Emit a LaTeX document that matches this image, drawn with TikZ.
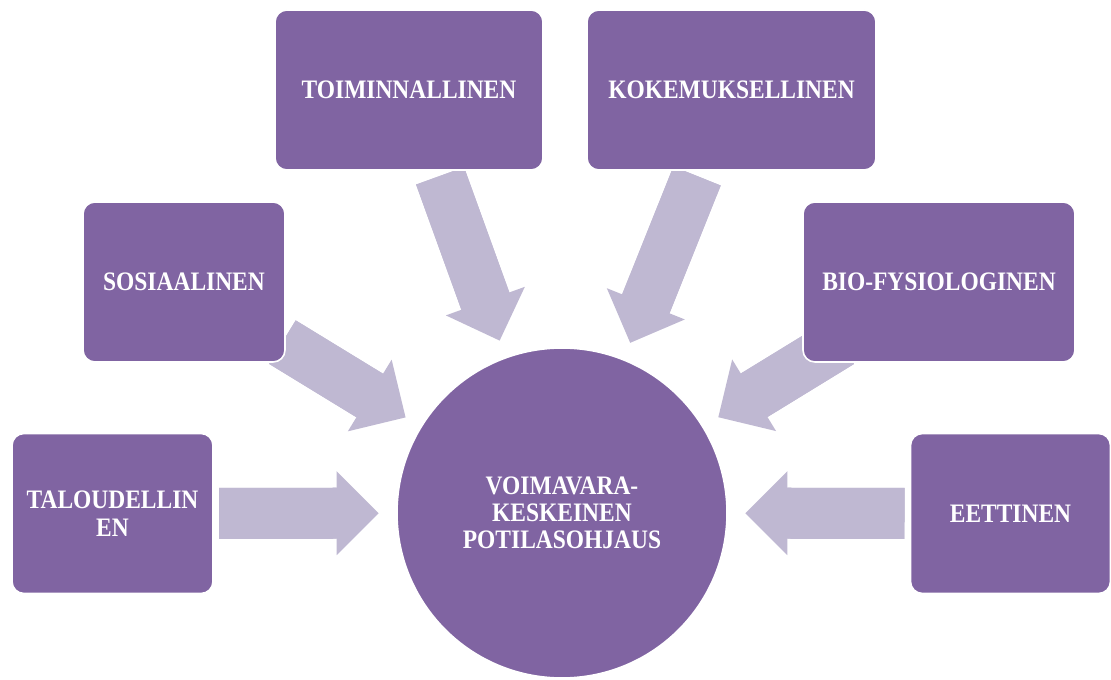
\documentclass[tikz,border=0pt]{standalone}
\usepackage{fontspec}
\newfontfamily\boxfont[FakeStretch=0.88]{Liberation Serif}
\usepackage{tikz}
\usetikzlibrary{arrows.meta,backgrounds}
\definecolor{vkpurple}{RGB}{128,100,162}
\definecolor{vklilac}{RGB}{191,184,210}
\tikzstyle{facet} = [rectangle, rounded corners=9pt, fill=vkpurple, draw=white, line width=1.2pt, text=white, align=center, minimum height=120pt, inner sep=0pt, font=\boxfont\bfseries\fontsize{20}{21}\selectfont]
\tikzstyle{core} = [circle, fill=vkpurple, draw=white, line width=1.2pt, text=white, align=center, minimum size=247.5pt, inner sep=0pt, font=\boxfont\bfseries\fontsize{20}{20.25}\selectfont]
\tikzstyle{bigarrow} = [draw=vklilac, line width=38.25pt, -{Triangle[length=31.5pt,width=63pt,line width=0pt]}, shorten >=137.5pt]
\tikzstyle{bigshaft} = [draw=vklilac, line width=38.25pt, shorten >=160pt]

\begin{document}
\begin{tikzpicture}[x=0.75pt, y=-0.75pt]
\useasboundingbox (0,0) rectangle (1111,680);
% Centre
\node[core] (vk) at (562,513) {VOIMAVARA-\\KESKEINEN\\POTILASOHJAUS};
% Surrounding boxes
\node[facet, minimum width=201pt] (toim) at (409,90) {TOIMINNALLINEN};
\node[facet, minimum width=216.75pt] (kok) at (731.5,90) {KOKEMUKSELLINEN};
\node[facet, minimum width=151.5pt] (sos) at (184,282) {SOSIAALINEN};
\node[facet, minimum width=204pt] (bio) at (939,282) {BIO-FYSIOLOGINEN};
\node[facet, minimum width=150.75pt] (tal) at (112.5,513.5) {TALOUDELLIN\\EN};
\node[facet, minimum width=150pt] (eet) at (1010.5,513.5) {EETTINEN};
% Arrows behind the boxes
\begin{scope}[on background layer]
\foreach \from/\gap in {toim/68.5, kok/69.5, sos/86.5, bio/86.5, tal/80, eet/79.5}{
  \draw[bigarrow, shorten <=\gap pt] (\from.center) -- (vk.center);
  \draw[bigshaft, shorten <=\gap pt] (\from.center) -- (vk.center);
}
\end{scope}
\end{tikzpicture}
\end{document}
